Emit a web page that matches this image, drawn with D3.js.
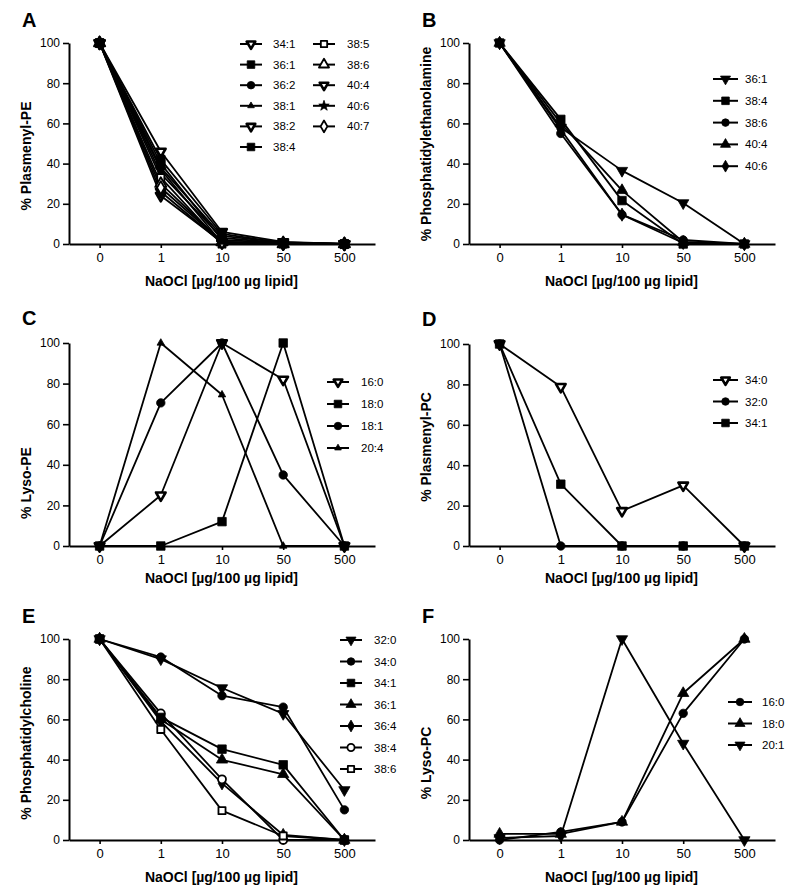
<!DOCTYPE html>
<html><head><meta charset="utf-8">
<script src="https://cdn.jsdelivr.net/npm/d3@7"></script>
<style>
body{margin:0;background:#fff}
svg{display:block}
text{font-family:"Liberation Sans",Arial,Helvetica,sans-serif;fill:#000}
</style>
</head><body>
<svg id="c" width="800" height="893"></svg>
<script>
// ---------- data ----------
const xCats = ["0","1","10","50","500"];
const yTicks = [0,20,40,60,80,100];
const xTitle = "NaOCl [µg/100 µg lipid]";

const namesA = ["34:1","36:1","36:2","38:1","38:2","38:4","38:5","38:6","40:4","40:6","40:7"];
const valuesA = [
  [100,46,6,1,0],
  [100,42,5,0.5,0],
  [100,38,4,0.8,0],
  [100,35,3,0.5,0],
  [100,24,1,0,0],
  [100,40,2,0.5,0],
  [100,33,0,0,0],
  [100,30,1,0,0],
  [100,26,0.5,0,0],
  [100,37,0.5,0.5,0],
  [100,28,1,0.5,0]
];

const namesB = ["36:1","38:4","38:6","40:4","40:6"];
const valuesB = [
  [100,58,36.5,20.4,0],
  [100,62,21.6,0,0],
  [100,55,14.6,2,0],
  [100,60,26.7,1,0],
  [100,57,14.6,0.5,0]
];

const namesC = ["16:0","18:0","18:1","20:4"];
const valuesC = [
  [0,25,100,82,0],
  [0,0,12,100,0],
  [0,70.5,100,35,0],
  [0,100,74.5,0,0]
];

const namesD = ["34:0","32:0","34:1"];
const valuesD = [
  [100,78.8,17.4,30,0],
  [100,0,0,0,0],
  [100,30.6,0,0,0]
];

const namesE = ["32:0","34:0","34:1","36:1","36:4","38:4","38:6"];
const valuesE = [
  [100,90,75.6,62.8,24.9],
  [100,91,71.8,66.1,15],
  [100,61,45.2,37.4,0],
  [100,60,39.9,32.7,0],
  [100,59,28.2,2.5,0],
  [100,63,30.2,0,0],
  [100,55,14.6,2,0]
];

const namesF = ["16:0","18:0","20:1"];
const valuesF = [
  [0,4,9,63,100],
  [3,3,9,73,100],
  [1,2,100,48,0]
];

// ---------- styles ----------
const markersA = ["tdnO","sq","ci","triS","tdnO","sq","sqO","triO","tdnO","star","diaO"];
const markersB = ["tdn","sq","ci","tri","dia"];
const markersC = ["tdnO","sq","ci","triS"];
const markersD = ["tdnO","ci","sq"];
const markersE = ["tdn","ci","sq","tri","dia","ciO","sqO"];
const markersF = ["ci","tri","tdn"];

const panels = [
  {letter:"A", lx:22, ly:27, x0:69, x1:375, yTop:43, yBot:244, ytitle:"% Plasmenyl-PE", ytx:31, yty:156, xty:286,
   names:namesA, values:valuesA, markers:markersA,
   legend:[{x1:240,x2:262,tx:273,y0:44,dy:20.6,from:0,to:6},{x1:313,x2:335,tx:347,y0:44,dy:20.6,from:6,to:11}]},
  {letter:"B", lx:422, ly:27, x0:469, x1:775, yTop:43, yBot:244, ytitle:"% Phosphatidylethanolamine", ytx:431, yty:144, xty:286,
   names:namesB, values:valuesB, markers:markersB,
   legend:[{x1:713,x2:738,tx:745,y0:79,dy:21.8,from:0,to:5}]},
  {letter:"C", lx:22, ly:325, x0:69, x1:375, yTop:343, yBot:546, ytitle:"% Lyso-PE", ytx:31, yty:483, xty:583,
   names:namesC, values:valuesC, markers:markersC,
   legend:[{x1:327,x2:349,tx:361,y0:382,dy:22,from:0,to:4}]},
  {letter:"D", lx:422, ly:326, x0:469, x1:775, yTop:344, yBot:546, ytitle:"% Plasmenyl-PC", ytx:431, yty:447, xty:583,
   names:namesD, values:valuesD, markers:markersD,
   legend:[{x1:713,x2:738,tx:745,y0:380,dy:21.5,from:0,to:3}]},
  {letter:"E", lx:22, ly:623, x0:69, x1:375, yTop:639, yBot:840, ytitle:"% Phosphatidylcholine", ytx:31, yty:743, xty:882,
   names:namesE, values:valuesE, markers:markersE,
   legend:[{x1:340,x2:362,tx:374,y0:640,dy:21.5,from:0,to:7}]},
  {letter:"F", lx:422, ly:623, x0:469, x1:775, yTop:639, yBot:840, ytitle:"% Lyso-PC", ytx:431, yty:763, xty:882,
   names:namesF, values:valuesF, markers:markersF,
   legend:[{x1:728,x2:752,tx:762,y0:702,dy:21.5,from:0,to:3}]}
];

const svg = d3.select("#c");

function drawMarker(g, kind, x, y, k) {
  let type, size, open = false, rot = 0, sw = 1.8;
  switch (kind) {
    case "sq": type = d3.symbolSquare; size = 72; break;
    case "sqO": type = d3.symbolSquare; size = 50; open = true; break;
    case "ci": type = d3.symbolCircle; size = 56; break;
    case "ciO": type = d3.symbolCircle; size = 50; open = true; break;
    case "tri": type = d3.symbolTriangle; size = 55; break;
    case "triS": type = d3.symbolTriangle; size = 24; break;
    case "triO": type = d3.symbolTriangle; size = 55; open = true; break;
    case "tdn": type = d3.symbolTriangle; size = 55; rot = 180; break;
    case "tdnO": type = d3.symbolTriangle; size = 40; rot = 180; open = true; sw = 2.6; break;
    case "dia": type = d3.symbolDiamond; size = 50; break;
    case "diaO": type = d3.symbolDiamond; size = 50; open = true; break;
    case "star": type = d3.symbolStar; size = 42; break;
  }
  g.append("path")
    .attr("d", d3.symbol(type, size * k)())
    .attr("transform", `translate(${x},${y}) rotate(${rot})`)
    .attr("fill", open ? "#fff" : "#000")
    .attr("stroke", "#000")
    .attr("stroke-width", open ? sw : 0.8)
    .attr("stroke-linejoin", "round");
}

panels.forEach(p => {
  const g = svg.append("g");
  const x = d3.scalePoint().domain(xCats).range([p.x0, p.x1]).padding(0.5);
  const y = d3.scaleLinear().domain([0,100]).range([p.yBot, p.yTop]);

  // axes
  const ya = g.append("g").attr("transform", `translate(${p.x0},0)`)
    .call(d3.axisLeft(y).tickValues(yTicks).tickSize(6).tickSizeOuter(0).tickPadding(3));
  ya.select(".domain").attr("stroke-width", 2);
  ya.selectAll(".tick line").attr("stroke-width", 1.6);
  ya.selectAll(".tick text").style("font-size", "12px").style("font-family", "Liberation Sans, Arial, sans-serif");

  const xa = g.append("g").attr("transform", `translate(0,${p.yBot})`)
    .call(d3.axisBottom(x).tickSize(4).tickSizeOuter(0).tickPadding(5));
  xa.select(".domain").attr("stroke-width", 2);
  xa.selectAll(".tick line").attr("stroke-width", 1.6);
  xa.selectAll(".tick text").style("font-size", "13px").style("font-family", "Liberation Sans, Arial, sans-serif");

  // titles
  g.append("text").attr("x", (p.x0 + p.x1) / 2 - 0.5).attr("y", p.xty)
    .attr("text-anchor", "middle").style("font-size", "14px").style("font-weight", "bold")
    .text(xTitle);
  g.append("text").attr("transform", `translate(${p.ytx},${p.yty}) rotate(-90)`)
    .attr("text-anchor", "middle").style("font-size", "14px").style("font-weight", "bold")
    .text(p.ytitle);
  g.append("text").attr("x", p.lx).attr("y", p.ly)
    .style("font-size", "20px").style("font-weight", "bold").text(p.letter);

  // draw order: natural, filled-square series last (on top)
  const idx = d3.range(p.values.length);
  const order = idx.filter(i => p.markers[i] !== "sq").concat(idx.filter(i => p.markers[i] === "sq"));

  const line = d3.line().x((d, i) => x(xCats[i])).y(d => y(d));
  order.forEach(s => {
    g.append("path").attr("d", line(p.values[s]))
      .attr("fill", "none").attr("stroke", "#000").attr("stroke-width", 1.8)
      .attr("stroke-linejoin", "round");
  });
  order.forEach(s => {
    p.values[s].forEach((v, i) => drawMarker(g, p.markers[s], x(xCats[i]), y(v), 1));
  });

  // legend
  p.legend.forEach(L => {
    for (let s = L.from; s < L.to; s++) {
      const yy = L.y0 + (s - L.from) * L.dy;
      g.append("line").attr("x1", L.x1).attr("x2", L.x2).attr("y1", yy).attr("y2", yy)
        .attr("stroke", "#000").attr("stroke-width", 2);
      drawMarker(g, p.markers[s], (L.x1 + L.x2) / 2, yy, 0.8);
      g.append("text").attr("x", L.tx).attr("y", yy + 4)
        .style("font-size", "11.5px").text(p.names[s]);
    }
  });
});
</script>
</body></html>
